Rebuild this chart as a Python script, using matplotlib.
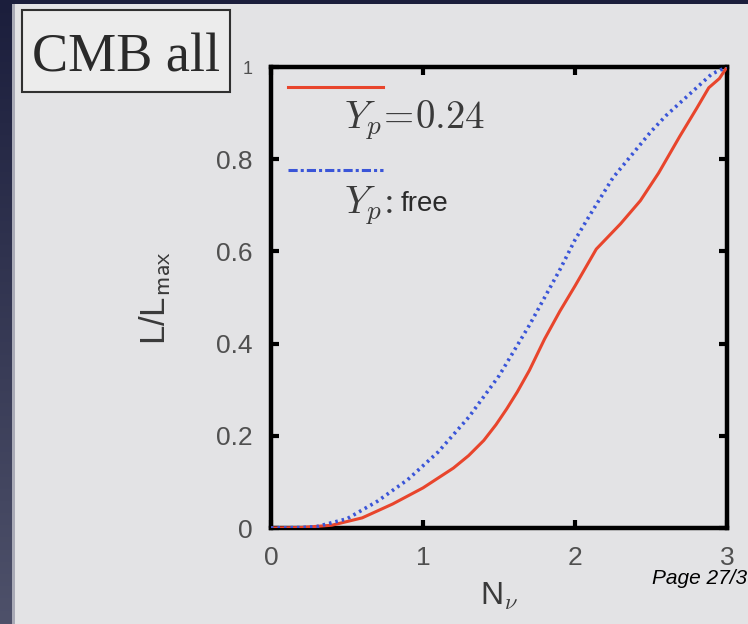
import matplotlib
matplotlib.use("Agg")
import matplotlib.pyplot as plt
import numpy as np
from matplotlib.lines import Line2D
from matplotlib.patches import Rectangle

plt.rcParams['mathtext.fontset'] = 'cm'

# likelihood curves, L/Lmax vs N_nu
n_fixed = [0, 0.2, 0.4, 0.6, 0.8, 1.0, 1.2, 1.3, 1.4, 1.48, 1.55, 1.62,
           1.7, 1.8, 1.9, 2.0, 2.14, 2.3, 2.43, 2.55, 2.69, 2.8, 2.88,
           2.95, 3.0]
l_fixed = [0, 0.001, 0.006, 0.022, 0.052, 0.087, 0.13, 0.157, 0.19, 0.224,
           0.258, 0.295, 0.342, 0.41, 0.47, 0.525, 0.605, 0.66, 0.71, 0.77,
           0.85, 0.91, 0.955, 0.975, 1.0]

n_free = [0, 0.2, 0.3, 0.5, 0.7, 0.9, 1.1, 1.3, 1.5, 1.7, 1.8, 1.9, 2.0,
          2.1, 2.25, 2.4, 2.5, 2.6, 2.75, 2.9, 3.0]
l_free = [0, 0.001, 0.003, 0.02, 0.058, 0.105, 0.165, 0.24, 0.33, 0.44,
          0.5, 0.56, 0.625, 0.68, 0.76, 0.82, 0.86, 0.895, 0.94, 0.985, 1.0]

x_ticks = [0, 1, 2, 3]
y_ticks = [0, 0.2, 0.4, 0.6, 0.8, 1]
y_ticklabels = ['0', '0.2', '0.4', '0.6', '0.8', '1']

W, H = 748, 624
fig = plt.figure(figsize=(W / 100, H / 100), dpi=100)
fig.patch.set_facecolor('#e3e3e5')

# slide frame: dark strip on the left and along the top
bg = fig.add_axes([0, 0, 1, 1], zorder=-10)
bg.set_xlim(0, W)
bg.set_ylim(H, 0)
bg.axis('off')
top_col = np.array([0x1b, 0x1e, 0x3c]) / 255
bot_col = np.array([0x4e, 0x51, 0x6a]) / 255
t = np.linspace(0, 1, 256)[:, None, None]
strip = (1 - t) * top_col + t * bot_col
strip = np.repeat(strip, 2, axis=1)
bg.imshow(strip, extent=[0, 12, H, 0], aspect='auto')
bg.add_patch(Rectangle((12, 0), 3, H, color='#a9aab6', lw=0))
bg.add_patch(Rectangle((0, 0), W, 4, color='#1b1e3c', lw=0))

# title box
bg.add_patch(Rectangle((22, 10), 208, 82, facecolor='#ececec',
                       edgecolor='#303030', lw=1.5))
bg.text(32, 72, 'CMB all', family='Liberation Serif', fontsize=39,
        color='#2a2a2a', ha='left', va='baseline')
bg.text(652, 578, 'Page 27/3', family='Liberation Sans', style='italic',
        fontsize=15, color='black', ha='left', va='center')

ax = fig.add_axes([271 / W, 1 - 528 / H, 456 / W, 461 / H])
ax.patch.set_alpha(0)

ax.plot(n_fixed, l_fixed, color='#e8452c', lw=2.2, zorder=3)
ax.plot(n_free, l_free, color='#3a55d8', lw=2.6,
        linestyle=(0, (0.7, 1.1)), zorder=3)

ax.set_xlim(0, 3)
ax.set_ylim(0, 1)
ax.set_xticks(x_ticks)
ax.set_yticks(y_ticks)
ax.set_yticklabels(y_ticklabels)
ax.tick_params(direction='in', top=True, right=True, length=6, width=3,
               pad=13, labelsize=19, labelcolor='#505050', color='black')
for lbl in ax.get_yticklabels():
    if lbl.get_text() == '1':
        lbl.set_fontsize(13)
for s in ax.spines.values():
    s.set_linewidth(3.2)
    s.set_color('black')
for lbl in ax.get_xticklabels() + ax.get_yticklabels():
    lbl.set_family('Liberation Sans')

ax.set_xlabel(r'N$_{\nu}$', fontsize=23, color='#3a3a3a',
              family='Liberation Sans')
ax.xaxis.set_label_coords(0.5, -0.115)
ax.set_ylabel(r'L/L$_{\mathsf{max}}$', fontsize=25, color='#3a3a3a',
              family='Liberation Sans', rotation_mode='default',
              ha='center', va='center')
ax.yaxis.set_label_coords(-0.255, 0.5)

# legend: sample line with its label underneath
ax.add_line(Line2D([0.037, 0.246], [0.957, 0.957], transform=ax.transAxes,
                   color='#e8452c', lw=2.2))
ax.text(0.16, 0.885, r'$Y_p\!=\!0.24$', transform=ax.transAxes,
        fontsize=28, color='#3a3a3a', ha='left', va='center')
ax.add_line(Line2D([0.037, 0.246], [0.777, 0.777], transform=ax.transAxes,
                   color='#3a55d8', lw=2.2, linestyle=(0, (3, 1, 1, 1))))
ax.text(0.16, 0.70, r'$Y_p\!:$', transform=ax.transAxes,
        fontsize=28, color='#3a3a3a', ha='left', va='center')
ax.text(0.285, 0.703, 'free', transform=ax.transAxes, family='Liberation Sans',
        fontsize=20, color='#2a2a2a', ha='left', va='center')

fig.savefig('out.png', dpi=100, facecolor=fig.get_facecolor())
